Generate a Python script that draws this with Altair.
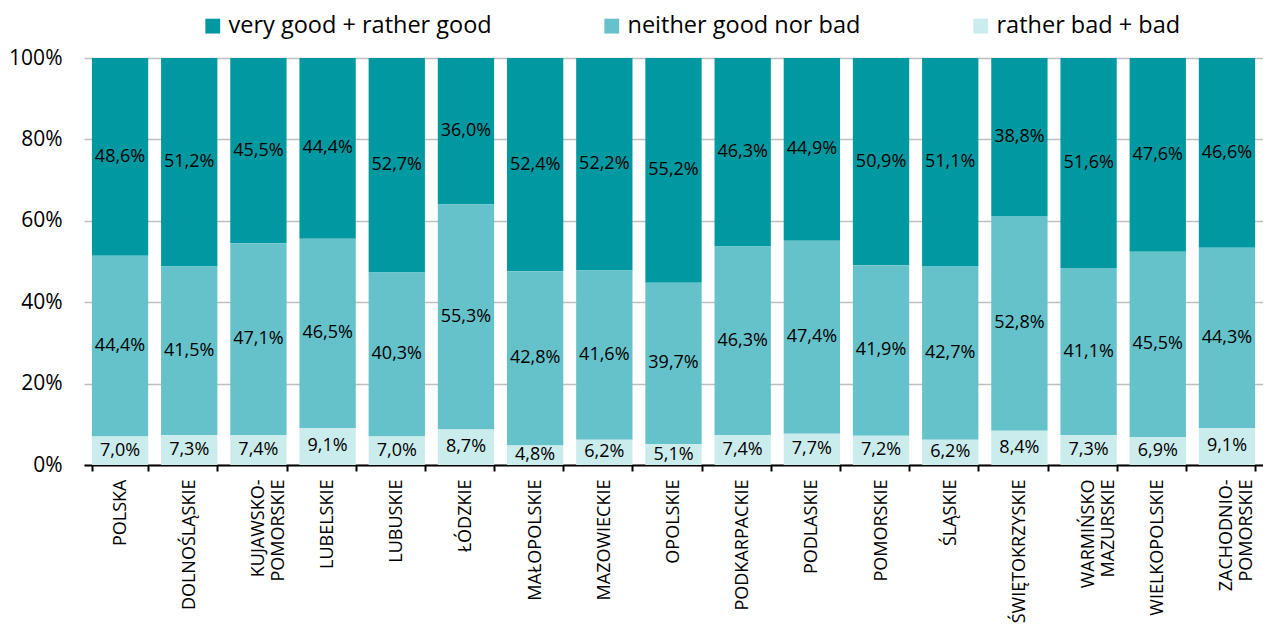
import altair as alt
import pandas as pd

regions = ["POLSKA", "DOLNOŚLĄSKIE", "KUJAWSKO-\nPOMORSKIE", "LUBELSKIE", "LUBUSKIE",
           "ŁÓDZKIE", "MAŁOPOLSKIE", "MAZOWIECKIE", "OPOLSKIE", "PODKARPACKIE",
           "PODLASKIE", "POMORSKIE", "ŚLĄSKIE", "ŚWIĘTOKRZYSKIE", "WARMIŃSKO\nMAZURSKIE",
           "WIELKOPOLSKIE", "ZACHODNIO-\nPOMORSKIE"]
good = [48.6, 51.2, 45.5, 44.4, 52.7, 36.0, 52.4, 52.2, 55.2, 46.3, 44.9, 50.9, 51.1, 38.8, 51.6, 47.6, 46.6]
neutral = [44.4, 41.5, 47.1, 46.5, 40.3, 55.3, 42.8, 41.6, 39.7, 46.3, 47.4, 41.9, 42.7, 52.8, 41.1, 45.5, 44.3]
bad = [7.0, 7.3, 7.4, 9.1, 7.0, 8.7, 4.8, 6.2, 5.1, 7.4, 7.7, 7.2, 6.2, 8.4, 7.3, 6.9, 9.1]

series = ["very good + rather good", "neither good nor bad", "rather bad + bad"]
colors = ["#0099A1", "#66C2CA", "#CBECEC"]
stack_order = {series[0]: 2, series[1]: 1, series[2]: 0}

rows = []
for i, r in enumerate(regions):
    for s, vals in zip(series, [good, neutral, bad]):
        rows.append({"region": r, "series": s, "value": vals[i], "ord": stack_order[s]})
df = pd.DataFrame(rows)

FONT = "Open Sans"

base = alt.Chart(df).transform_stack(
    stack="value", groupby=["region"], sort=[alt.SortField("ord", order="ascending")], as_=["v0", "v1"]
).transform_calculate(
    mid="(datum.v0 + datum.v1) / 2",
    label="replace(format(datum.value, '.1f'), '.', ',') + '%'"
)

xenc = alt.X("region:N", sort=regions, title=None,
             scale=alt.Scale(paddingInner=0.186, paddingOuter=0.114),
             axis=alt.Axis(labelAngle=-90, labelFontSize=18, labelFont=FONT, labelColor="#000",
                           labelExpr="isValid(datum.value) ? split(datum.value, '\\n') : ''",
                           labelLineHeight=20,
                           labelPadding=8, tickBand="extent", tickColor="#000", tickSize=6,
                           domainColor="#000", domainWidth=2, tickWidth=2, labelLimit=300))

bars = base.mark_bar().encode(
    x=xenc,
    y=alt.Y("v0:Q", title=None, scale=alt.Scale(domain=[0, 100]),
            axis=alt.Axis(values=[0, 20, 40, 60, 80, 100], labelExpr="datum.value + '%'",
                          labelFontSize=21, labelFont=FONT, labelColor="#000", domain=False,
                          ticks=False, gridColor="#BFBFBF", gridWidth=1.5, labelPadding=22)),
    y2="v1:Q",
    color=alt.Color("series:N", scale=alt.Scale(domain=series, range=colors),
                    legend=alt.Legend(title=None, orient="none", legendX=117, legendY=-44,
                                      direction="horizontal",
                                      symbolType="square", symbolSize=220, symbolStrokeWidth=0,
                                      labelFontSize=23.5, labelFont=FONT, labelColor="#000",
                                      columnPadding=108, labelLimit=400)),
)

text = base.mark_text(fontSize=18, font=FONT, color="#000").encode(
    x=alt.X("region:N", sort=regions),
    y=alt.Y("mid:Q"),
    text="label:N",
)

chart = alt.layer(bars, text).properties(
    width=1179, height=407, padding={"left": 0, "top": 6, "right": 0, "bottom": 0}
).configure_view(stroke=None)

chart.save("out.html", embed_options={"renderer": "svg", "actions": False})
